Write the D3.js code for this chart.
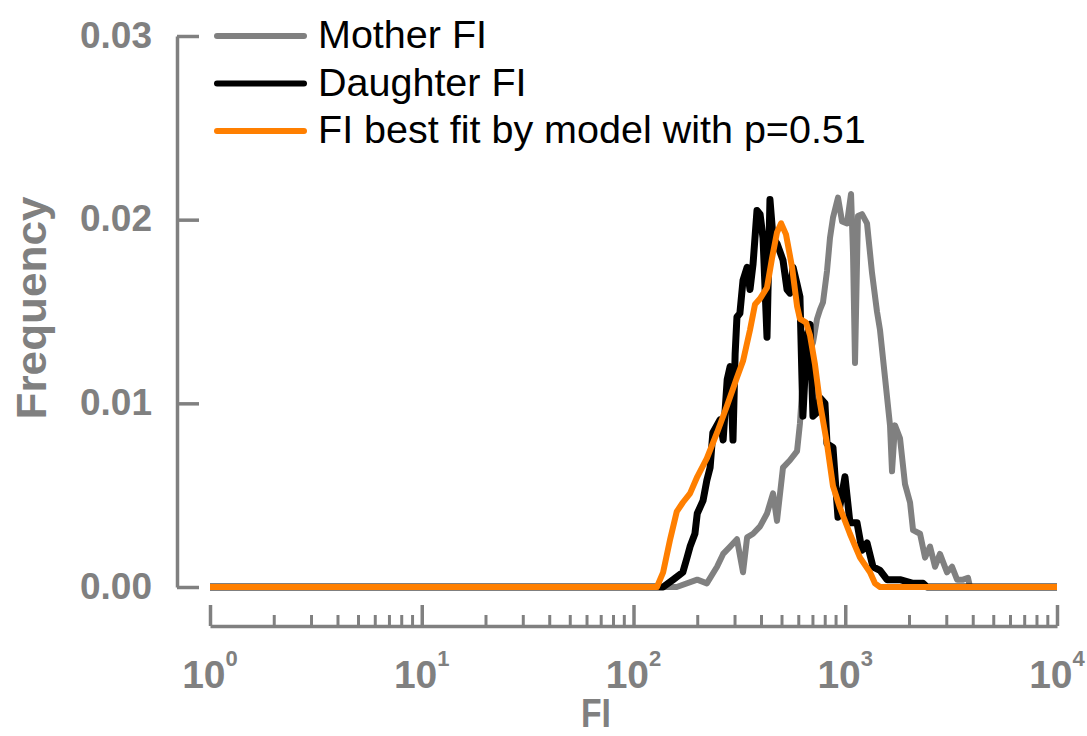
<!DOCTYPE html>
<html>
<head>
<meta charset="utf-8">
<script src="https://cdn.jsdelivr.net/npm/d3@7"></script>
<style>
  html, body { margin: 0; padding: 0; background: #fff; }
  svg { display: block; font-family: "Liberation Sans", Arial, sans-serif; }
</style>
</head>
<body>
<svg id="chart" width="1087" height="736"></svg>
<script>
// Histograms of fluorescence intensity (FI), as [FI, frequency] pairs
const motherFI = [
  [1, 0], [160, 0], [200, 0.0004], [222, 0.0002], [248, 0.0011], [265, 0.0018],
  [286, 0.0022], [308, 0.0026], [329, 0.0008], [344, 0.0027], [367, 0.0029],
  [396, 0.0033], [427, 0.0040], [456, 0.0051], [476, 0.0036], [508, 0.0065],
  [548, 0.0069], [592, 0.0074], [611, 0.0089], [631, 0.0114], [660, 0.0125],
  [704, 0.0133], [736, 0.0146], [760, 0.0151], [785, 0.0155], [820, 0.0172],
  [847, 0.0190], [875, 0.0201], [924, 0.0212], [966, 0.0199], [1019, 0.0198],
  [1065, 0.0214], [1088, 0.0182], [1112, 0.0122], [1148, 0.0202], [1200, 0.0203],
  [1267, 0.0198], [1338, 0.0171], [1412, 0.0150], [1459, 0.0140], [1541, 0.0114],
  [1627, 0.0088], [1663, 0.0063], [1718, 0.0088], [1814, 0.0081], [1915, 0.0056],
  [2023, 0.0046], [2090, 0.0031], [2255, 0.0029], [2382, 0.0016], [2514, 0.0022],
  [2655, 0.0011], [2801, 0.0018], [3025, 0.0008], [3195, 0.0011], [3374, 0.0004],
  [3599, 0.0004], [3800, 0.0005], [3883, 0], [10000, 0]
];

const daughterFI = [
  [1, 0], [138, 0], [154, 0.0004], [171, 0.0008], [179, 0.0016], [185, 0.0022],
  [195, 0.0029], [200, 0.0040], [213, 0.0047], [222, 0.0058], [230, 0.0065],
  [237, 0.0084], [256, 0.0091], [265, 0.0080], [277, 0.0113], [286, 0.0120],
  [295, 0.0080], [302, 0.0127], [308, 0.0147], [318, 0.0149], [329, 0.0167],
  [344, 0.0174], [355, 0.0162], [367, 0.0176], [383, 0.0205], [396, 0.0203],
  [409, 0.0190], [427, 0.0136], [441, 0.0211], [456, 0.0190], [476, 0.0187],
  [508, 0.0178], [531, 0.0162], [548, 0.0160], [567, 0.0174], [592, 0.0165],
  [611, 0.0158], [631, 0.0093], [660, 0.0137], [682, 0.0143], [704, 0.0093],
  [736, 0.0095], [760, 0.0103], [802, 0.0100], [820, 0.0078], [875, 0.0076],
  [924, 0.0038], [997, 0.0060], [1052, 0.0035], [1136, 0.0035], [1200, 0.0020],
  [1267, 0.0024], [1352, 0.0011], [1459, 0.0009], [1575, 0.0004], [1814, 0.0004],
  [2090, 0.0002], [2330, 0.0002], [2434, 0], [10000, 0]
];

const fitFI = [
  [1, 0], [129, 0], [138, 0.0008], [149, 0.0026], [160, 0.0041], [171, 0.0046],
  [185, 0.0051], [200, 0.0060], [222, 0.0070], [248, 0.0084], [277, 0.0099],
  [308, 0.0114], [329, 0.0123], [355, 0.0140], [375, 0.0154], [396, 0.0157],
  [427, 0.0163], [451, 0.0179], [476, 0.0193], [498, 0.0198], [525, 0.0192],
  [561, 0.0174], [592, 0.0153], [611, 0.0146], [653, 0.0144], [682, 0.0137],
  [720, 0.0121], [760, 0.0100], [820, 0.0078], [875, 0.0055], [945, 0.0043],
  [1052, 0.0029], [1174, 0.0016], [1309, 0.0008], [1381, 0.0002], [1459, 0],
  [10000, 0]
];

const seriesNames = ["Mother FI", "Daughter FI", "FI best fit by model with p=0.51"];
const seriesColors = ["#808080", "#000000", "#ff7f00"];

const yTicks = [0, 0.01, 0.02, 0.03];
const xMajorTicks = [1, 10, 100, 1000, 10000];
const xTickExponents = ["0", "1", "2", "3", "4"];
const xMinorTicks = [];
[1, 10, 100, 1000].forEach(p => { for (let m = 2; m <= 9; m++) xMinorTicks.push(m * p); });

const axisGray = "#808080";
const svg = d3.select("#chart");

const x = d3.scaleLog().domain([1, 10000]).range([210, 1057]);
const y = d3.scaleLinear().domain([0, 0.03]).range([587, 36]);

// Y axis: line with inward ticks, labels on the left
const yAxis = svg.append("g")
  .attr("transform", "translate(177,0)")
  .call(d3.axisLeft(y).tickValues(yTicks).tickSizeInner(-22).tickSizeOuter(0)
    .tickPadding(25).tickFormat(d3.format(".2f")));
yAxis.select(".domain").attr("stroke", axisGray).attr("stroke-width", 3.5);
yAxis.selectAll(".tick line").attr("stroke", axisGray).attr("stroke-width", 3.5);
yAxis.selectAll(".tick text")
  .attr("fill", axisGray).attr("font-size", 37).attr("font-weight", "bold")
  .attr("font-family", "'Liberation Sans', Arial, sans-serif")
  .attr("dy", 11);

// X axis: baseline with upward major and minor ticks
const xAxisY = 626;
const xMajor = svg.append("g")
  .attr("transform", `translate(0,${xAxisY})`)
  .call(d3.axisBottom(x).tickValues(xMajorTicks).tickSizeInner(-21).tickSizeOuter(0)
    .tickFormat(""));
xMajor.select(".domain").attr("stroke", axisGray).attr("stroke-width", 3.5);
xMajor.selectAll(".tick line").attr("stroke", axisGray).attr("stroke-width", 3.5);

const xMinor = svg.append("g")
  .attr("transform", `translate(0,${xAxisY})`)
  .call(d3.axisBottom(x).tickValues(xMinorTicks).tickSizeInner(-11).tickSizeOuter(0)
    .tickFormat(""));
xMinor.select(".domain").remove();
xMinor.selectAll(".tick line").attr("stroke", axisGray).attr("stroke-width", 3);

// Power-of-ten tick labels
const xLabels = svg.append("g").attr("fill", axisGray).attr("font-weight", "bold");
xMajorTicks.forEach((v, i) => {
  const t = xLabels.append("text")
    .attr("x", x(v)).attr("y", 688)
    .attr("text-anchor", "middle");
  t.append("tspan").attr("font-size", 39).text("10");
  t.append("tspan").attr("font-size", 22).attr("dy", -22).text(xTickExponents[i]);
});

// Axis titles
svg.append("text")
  .attr("x", 596).attr("y", 727)
  .attr("text-anchor", "middle")
  .attr("fill", axisGray).attr("font-weight", "bold").attr("font-size", 40)
  .attr("textLength", 30).attr("lengthAdjust", "spacingAndGlyphs")
  .text("FI");

svg.append("text")
  .attr("transform", "translate(46,308) rotate(-90)")
  .attr("text-anchor", "middle")
  .attr("fill", axisGray).attr("font-weight", "bold").attr("font-size", 42)
  .attr("textLength", 223).attr("lengthAdjust", "spacingAndGlyphs")
  .text("Frequency");

// Curves
const line = d3.line().x(d => x(d[0])).y(d => y(d[1]));
const series = [motherFI, daughterFI, fitFI];
const widths = [6, 7, 6];

svg.append("g").selectAll("path")
  .data(series)
  .join("path")
  .attr("d", line)
  .attr("fill", "none")
  .attr("stroke", (d, i) => seriesColors[i])
  .attr("stroke-width", (d, i) => widths[i])
  .attr("stroke-linejoin", "round");

// Legend
const legend = svg.append("g");
seriesNames.forEach((name, i) => {
  const ly = 36 + i * 47.5;
  legend.append("line")
    .attr("x1", 217).attr("x2", 304).attr("y1", ly).attr("y2", ly)
    .attr("stroke", seriesColors[i]).attr("stroke-width", 6)
    .attr("stroke-linecap", "round");
  legend.append("text")
    .attr("x", 318).attr("y", ly + 12)
    .attr("fill", "#000").attr("font-size", 39.5)
    .text(name);
});
</script>
</body>
</html>
